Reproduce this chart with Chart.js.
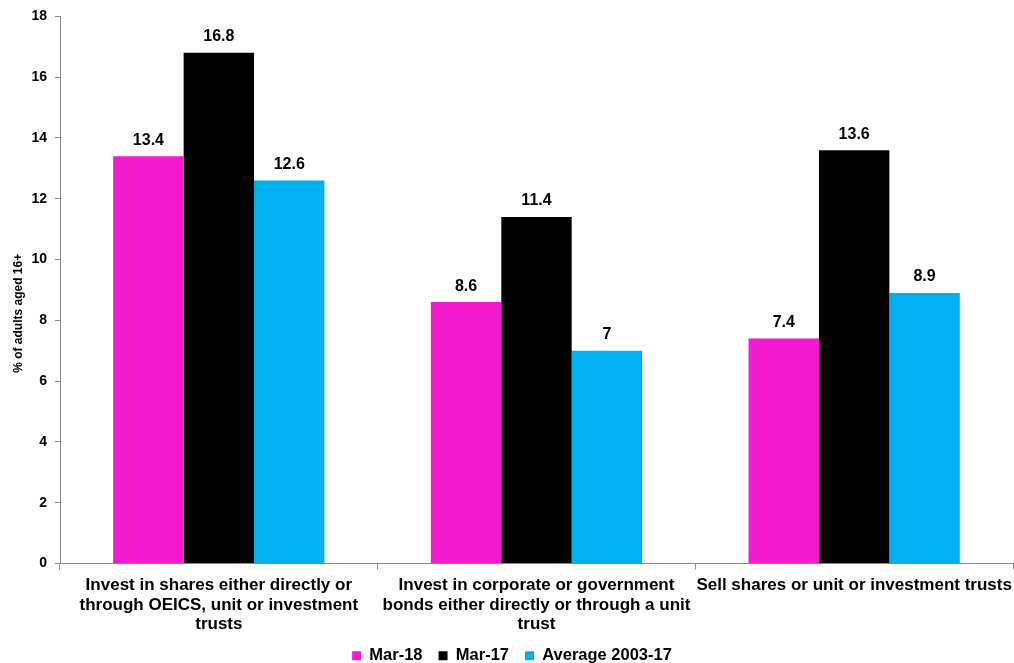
<!DOCTYPE html>
<html>
<head>
<meta charset="utf-8">
<script src="https://cdn.jsdelivr.net/npm/chart.js@4"></script>
<style>
  html, body { margin: 0; padding: 0; background: #fff; }
  #wrap { width: 1014px; height: 663px; }
</style>
</head>
<body>
<div id="wrap"><canvas id="chart" width="1014" height="663"></canvas></div>
<script>
const categories = [
  ['Invest in shares either directly or', 'through OEICS, unit or investment', 'trusts'],
  ['Invest in corporate or government', 'bonds either directly or through a unit', 'trust'],
  ['Sell shares or unit or investment trusts']
];
const seriesNames = ['Mar-18', 'Mar-17', 'Average 2003-17'];
const mar18 = [13.4, 8.6, 7.4];
const mar17 = [16.8, 11.4, 13.6];
const avg0317 = [12.6, 7, 8.9];
const colors = ['#f21bcf', '#000000', '#00b0f0'];

const font = { family: 'Liberation Sans, Arial, sans-serif', weight: 'bold' };

// value above each bar
const valueLabels = {
  id: 'valueLabels',
  afterDatasetsDraw(chart) {
    const ctx = chart.ctx;
    ctx.save();
    ctx.font = 'bold 16px Liberation Sans, Arial, sans-serif';
    ctx.fillStyle = '#000';
    ctx.textAlign = 'center';
    ctx.textBaseline = 'bottom';
    chart.data.datasets.forEach((ds, i) => {
      chart.getDatasetMeta(i).data.forEach((bar, j) => {
        ctx.fillText(String(ds.data[j]), bar.x, bar.y - 8);
      });
    });
    ctx.restore();
  }
};

new Chart(document.getElementById('chart'), {
  type: 'bar',
  data: {
    labels: categories,
    datasets: [
      { label: seriesNames[0], data: mar18, backgroundColor: colors[0] },
      { label: seriesNames[1], data: mar17, backgroundColor: colors[1] },
      { label: seriesNames[2], data: avg0317, backgroundColor: colors[2] }
    ]
  },
  options: {
    responsive: false,
    animation: false,
    layout: { padding: { top: 6, right: 1, left: 11, bottom: -11 } },
    datasets: { bar: { categoryPercentage: 0.665, barPercentage: 1 } },
    scales: {
      x: {
        grid: { drawOnChartArea: false, color: '#898989', tickLength: 6, offset: true },
        border: { color: '#898989' },
        ticks: { color: '#000', font: { ...font, size: 17, lineHeight: 1.15 }, maxRotation: 0, autoSkip: false, padding: 6 },
        afterFit(axis) {
          axis.height = 68;
          axis.paddingLeft = 0;
          axis.paddingRight = 0;
        }
      },
      y: {
        min: 0, max: 18,
        grid: { drawOnChartArea: false, color: '#898989', tickLength: 5 },
        border: { color: '#898989' },
        ticks: { stepSize: 2, color: '#000', font: { ...font, size: 14 }, padding: 8 },
        title: { display: true, text: '% of adults aged 16+              ', color: '#000', font: { ...font, size: 12 }, padding: 0 },
        afterFit(axis) { axis.width = 49; }
      }
    },
    plugins: {
      legend: {
        position: 'bottom',
        labels: { color: '#000', font: { ...font, size: 16.5 }, boxWidth: 9, boxHeight: 9, padding: 16 }
      },
      tooltip: { enabled: false }
    }
  },
  plugins: [valueLabels]
});
</script>
</body>
</html>
